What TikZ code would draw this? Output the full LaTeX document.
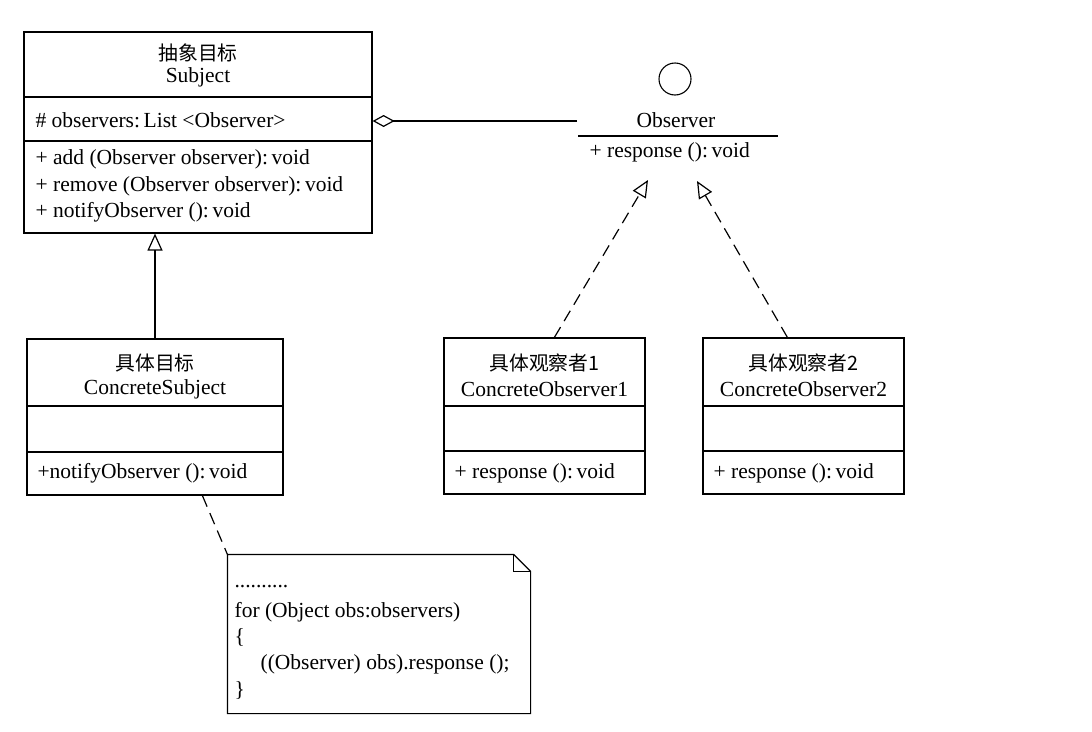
\documentclass[tikz,border=0pt]{standalone}
\usepackage{fontspec}
\setmainfont{Liberation Serif}
\newfontfamily\cjk[Scale=0.92]{Noto Sans CJK SC}
\usetikzlibrary{arrows.meta}
\begin{document}
\begin{tikzpicture}[x=1pt,y=-1pt,
  font=\fontsize{21.5}{24}\selectfont,
  line width=1.2pt,
  box/.style={draw, rectangle, inner sep=0pt},
  ctxt/.style={inner sep=0pt, anchor=center},
  ltxt/.style={inner sep=0pt, anchor=west},
  dsh/.style={dash pattern=on 12pt off 7pt},
  gen/.style={-{Triangle[open,length=17pt,width=15pt]}},
  agg/.style={-{Diamond[open,length=22pt,width=12pt]}}
]
\useasboundingbox (0,0) rectangle (1092,731);

% Subject
\node[box, minimum width=348pt, minimum height=201pt] (subj) at (198,132.5) {};
\draw (subj.west |- 0,97) -- (subj.east |- 0,97);
\draw (subj.west |- 0,141) -- (subj.east |- 0,141);
\node[ctxt] (subjcn) at (198,53) {\cjk 抽象目标};
\node[ctxt] (subjen) at (198,77) {Subject};
\node[ltxt] (subjattr) at (35,120) {\# observers:\,List <Observer>};
\node[ltxt] (subjop1) at (35,159) {+ add (Observer observer):\,void};
\node[ltxt] (subjop2) at (35,186) {+ remove (Observer observer):\,void};
\node[ltxt] (subjop3) at (35,212) {+ notifyObserver ():\,void};

% Observer interface
\node[draw, circle, minimum size=32pt, inner sep=0pt, line width=1.1pt] (obsc) at (675,79) {};
\node[ctxt] (obsname) at (676,120) {Observer};
\coordinate (obsL) at (578,136);
\coordinate (obsR) at (778,136);
\draw (obsL) -- (obsR);
\node[ltxt] (obsop) at (589,152) {+ response ():\,void};
\coordinate (aggend) at (577,121);
\draw[agg] (aggend) -- (subj.east |- aggend);

% ConcreteSubject
\node[box, minimum width=256pt, minimum height=156pt] (csubj) at (155,417) {};
\draw (csubj.west |- 0,406) -- (csubj.east |- 0,406);
\draw (csubj.west |- 0,452) -- (csubj.east |- 0,452);
\node[ctxt] (csubjcn) at (155,363) {\cjk 具体目标};
\node[ctxt] (csubjen) at (155,389) {ConcreteSubject};
\node[ltxt] (csubjop) at (37,473) {+notifyObserver ():\,void};
\draw[gen] (csubj.north) -- (csubj.north |- subj.south);

% ConcreteObserver1
\node[box, minimum width=201pt, minimum height=156pt] (co1) at (544.5,416) {};
\draw (co1.west |- 0,406) -- (co1.east |- 0,406);
\draw (co1.west |- 0,451) -- (co1.east |- 0,451);
\node[ctxt] (co1cn) at (544.5,363) {\cjk 具体观察者1};
\node[ctxt] (co1en) at (544.5,389) {ConcreteObserver1};
\node[ltxt] (co1op) at (454,473) {+ response ():\,void};

% ConcreteObserver2
\node[box, minimum width=201pt, minimum height=156pt] (co2) at (803.5,416) {};
\draw (co2.west |- 0,406) -- (co2.east |- 0,406);
\draw (co2.west |- 0,451) -- (co2.east |- 0,451);
\node[ctxt] (co2cn) at (803.5,363) {\cjk 具体观察者2};
\node[ctxt] (co2en) at (803.5,389) {ConcreteObserver2};
\node[ltxt] (co2op) at (713,473) {+ response ():\,void};

% realizations
\coordinate (tip1) at (648,180);
\coordinate (tip2) at (697,181);
\draw[gen, dsh] ([xshift=111pt]co1.north west) -- (tip1);
\draw[gen, dsh] ([xshift=85pt]co2.north west) -- (tip2);

% Note
\node[minimum width=302pt, minimum height=158pt, inner sep=0pt] (note) at (379,634) {};
\draw (note.north west) -- ([xshift=-17pt]note.north east) -- ([yshift=-17pt]note.north east)
  -- (note.south east) -- (note.south west) -- cycle;
\draw ([xshift=-17pt]note.north east) -- ([xshift=-17pt,yshift=-17pt]note.north east) -- ([yshift=-17pt]note.north east);
\node[ltxt] (n1) at (234,587) {..........};
\node[ltxt] (n2) at (234,612) {for (Object obs:observers)};
\node[ltxt] (n3) at (234,637) {\{};
\node[ltxt] (n4) at (260,664) {((Observer) obs).response ();};
\node[ltxt] (n5) at (234,690) {\}};
\draw[dsh] ([xshift=176pt]csubj.south west) -- (note.north west);
\end{tikzpicture}
\end{document}
